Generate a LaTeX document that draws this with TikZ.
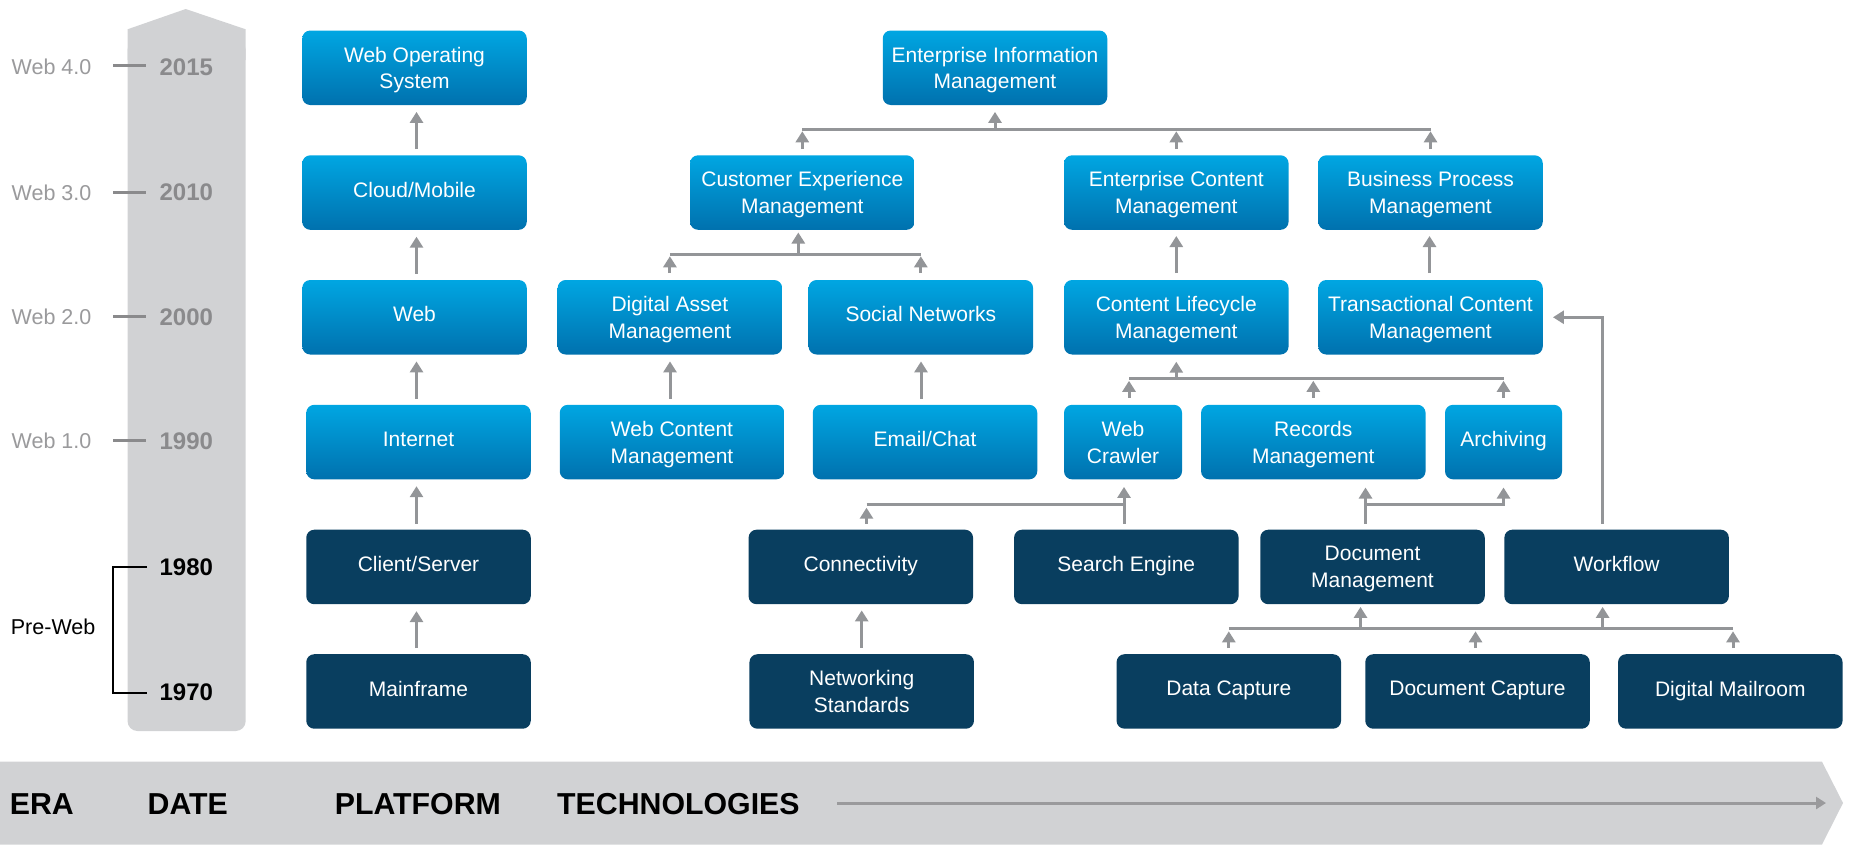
\documentclass[tikz,border=0pt]{standalone}
\usepackage{fontspec}
\setmainfont{Liberation Sans}
\usetikzlibrary{arrows.meta,calc}
\definecolor{bluetop}{HTML}{00A6E2}
\definecolor{bluebot}{HTML}{0071AE}
\definecolor{navy}{HTML}{093E5F}
\definecolor{bandgray}{HTML}{D1D2D4}
\definecolor{arrgray}{HTML}{939598}
\definecolor{yeargray}{HTML}{8A8A8C}
\definecolor{eragray}{HTML}{9A9A9C}
\begin{document}
\begin{tikzpicture}[x=1pt,y=-1pt,
  box/.style={rounded corners=8pt, minimum width=224.5pt, minimum height=74.5pt, inner sep=0pt, text=white, align=center, text depth=0pt, font=\fontsize{21}{26.7}\selectfont},
  one/.style={text depth=6pt},
  lbox/.style={box, top color=bluetop, bottom color=bluebot},
  dbox/.style={box, fill=navy},
  arr/.style={draw=arrgray, line width=3pt, -{Triangle[width=13pt,length=11pt]}},
  bus/.style={draw=arrgray, line width=3pt},
  eralbl/.style={anchor=west, inner sep=0pt, text=eragray, font=\fontsize{21.5}{24}\selectfont},
  yearg/.style={inner sep=0pt, text=yeargray, font=\fontsize{24}{26}\selectfont\bfseries},
  yearb/.style={inner sep=0pt, text=black, font=\fontsize{24}{26}\selectfont\bfseries},
  tick/.style={draw=yeargray, line width=3pt},
  bandlbl/.style={anchor=base west, inner sep=0pt, text=black, font=\fontsize{30.3}{32}\selectfont\bfseries},
  bandarr/.style={draw=eragray, line width=3pt, -{Triangle[width=12pt,length=10pt]}}
]
\useasboundingbox (0,0) rectangle (1851,849);

% timeline bar
\fill[bandgray, rounded corners=10pt] (127.5,40) rectangle (245.7,731);
\fill[bandgray] (127.5,29.3) -- (185.7,9) -- (245.7,29.3) -- (245.7,60) -- (127.5,60) -- cycle;

% bottom band
\fill[bandgray] (0,761.7) -- (1822,761.7) -- (1843,803) -- (1822,844.5) -- (0,844.5) -- cycle;
\node[bandlbl] (era) at (9.6,814.9) {ERA};
\node[bandlbl] (date) at (147.5,814.9) {DATE};
\node[bandlbl] (platform) at (334.6,814.9) {PLATFORM};
\node[bandlbl] (tech) at (557,814.9) {TECHNOLOGIES};
\coordinate (axs) at (837.3,803);
\coordinate (axe) at (1826,803);
\draw[bandarr] (axs) -- (axe);

% eras and dates
\node[eralbl] (w4) at (11.5,67) {Web 4.0};
\node[eralbl] (w3) at (11.5,192.5) {Web 3.0};
\node[eralbl] (w2) at (11.5,317) {Web 2.0};
\node[eralbl] (w1) at (11.5,441) {Web 1.0};
\node[yearg] (y2015) at (186.3,67) {2015};
\node[yearg] (y2010) at (186.3,192.5) {2010};
\node[yearg] (y2000) at (186.3,317) {2000};
\node[yearg] (y1990) at (186.3,441.5) {1990};
\node[yearb] (y1980) at (186.3,567.3) {1980};
\node[yearb] (y1970) at (186.3,692.5) {1970};
\draw[tick] (113,65) -- (146,65);
\draw[tick] (113,192) -- (146,192);
\draw[tick] (113,316) -- (146,316);
\draw[tick] (113,440) -- (146,440);
\node[anchor=west, inner sep=0pt, font=\fontsize{21.5}{24}\selectfont] (preweb) at (10.7,627.3) {Pre-Web};
\draw[black, line width=2pt] (147,567.3) -- (113.2,567.3) -- (113.2,692.7) -- (147,692.7);

% platform column
\node[lbox] (webos) at (414.5,67.75) {Web Operating\\System};
\node[lbox, one] (cloud) at (414.5,192.55) {Cloud/Mobile};
\node[lbox, one] (web) at (414.5,317.25) {Web};
\node[lbox, one] (internet) at (418.5,442.05) {Internet};
\node[dbox, one] (client) at (418.5,566.95) {Client/Server};
\node[dbox, one] (mainframe) at (418.5,691.45) {Mainframe};

\draw[arr] ($(cloud.north)+(2,-6)$) -- ($(cloud.north |- webos.south)+(2,6.7)$);
\draw[arr] ($(web.north)+(2,-6)$) -- ($(web.north |- cloud.south)+(2,6.7)$);
\draw[arr] ($(internet.north)+(-2,-6)$) -- ($(internet.north |- web.south)+(-2,6.7)$);
\draw[arr] ($(client.north)+(-2,-6)$) -- ($(client.north |- internet.south)+(-2,6.7)$);
\draw[arr] ($(mainframe.north)+(-2,-6)$) -- ($(mainframe.north |- client.south)+(-2,6.7)$);

% technology boxes
\node[lbox] (eim) at (995,67.75) {Enterprise Information\\Management};
\node[lbox] (cem) at (802.3,192.55) {Customer Experience\\Management};
\node[lbox] (ecm) at (1176.3,192.55) {Enterprise Content\\Management};
\node[lbox] (bpm) at (1430.5,192.55) {Business Process\\Management};
\node[lbox] (dam) at (669.9,317.25) {Digital Asset\\Management};
\node[lbox, one] (sn) at (920.8,317.25) {Social Networks};
\node[lbox] (clm) at (1176.3,317.25) {Content Lifecycle\\Management};
\node[lbox] (tcm) at (1430.5,317.25) {Transactional Content\\Management};
\node[lbox] (wcm) at (672,442.05) {Web Content\\Management};
\node[lbox, one] (email) at (925,442.05) {Email/Chat};
\node[lbox, minimum width=118pt] (wc) at (1123,442.05) {Web\\Crawler};
\node[lbox] (rec) at (1313.3,442.05) {Records\\Management};
\node[lbox, one, minimum width=117pt] (arch) at (1503.5,442.05) {Archiving};
\node[dbox, one] (conn) at (860.8,566.95) {Connectivity};
\node[dbox, one] (se) at (1126.3,566.95) {Search Engine};
\node[dbox] (dm) at (1372.5,566.95) {Document\\Management};
\node[dbox, one] (wf) at (1616.6,566.95) {Workflow};
\node[dbox] (ns) at (861.7,691.45) {Networking\\Standards};
\node[dbox, one] (dc) at (1228.8,691.45) {Data Capture};
\node[dbox, one] (doc) at (1477.5,691.45) {Document Capture};
\node[dbox, one] (mr) at (1730.3,691.45) {Digital Mailroom};

% EIM tree
\coordinate (eimbus) at (0,129.3);
\draw[bus] (cem.north |- eimbus) -- (bpm.north |- eimbus);
\draw[arr] ($(cem.north)+(0,-6)$) -- ($(cem.north |- eimbus)+(0,2)$);
\draw[arr] ($(ecm.north)+(0,-6)$) -- ($(ecm.north |- eimbus)+(0,2)$);
\draw[arr] ($(bpm.north)+(0,-6)$) -- ($(bpm.north |- eimbus)+(0,2)$);
\draw[arr] (eim.south |- eimbus) -- ($(eim.south)+(0,6.7)$);

% CEM tree
\coordinate (cembus) at (0,254.3);
\draw[bus] (dam.north |- cembus) -- (sn.north |- cembus);
\draw[arr] ($(dam.north)+(0,-6.7)$) -- ($(dam.north |- cembus)+(0,2)$);
\draw[arr] ($(sn.north)+(0,-6.7)$) -- ($(sn.north |- cembus)+(0,2)$);
\draw[arr] ($(cem.south |- cembus)+(-4,0)$) -- ($(cem.south)+(-4,2.5)$);

\draw[arr] ($(wcm.north)+(-2,-6)$) -- ($(wcm.north |- dam.south)+(-2,6.7)$);
\draw[arr] ($(email.north)+(-4,-6)$) -- ($(email.north |- sn.south)+(-4,6.7)$);
\draw[arr] ($(clm.north)+(0,-6.7)$) -- ($(clm.north |- ecm.south)+(0,6)$);
\draw[arr] ($(tcm.north)+(-1,-6.7)$) -- ($(tcm.north |- bpm.south)+(-1,6)$);

% CLM tree
\coordinate (clmbus) at (0,378.3);
\draw[bus] ($(wc.north |- clmbus)+(6,0)$) -- (arch.north |- clmbus);
\draw[arr] ($(wc.north)+(6,-7)$) -- ($(wc.north |- clmbus)+(6,2.5)$);
\draw[arr] ($(rec.north)+(0,-7)$) -- ($(rec.north |- clmbus)+(0,2.5)$);
\draw[arr] ($(arch.north)+(0,-7)$) -- ($(arch.north |- clmbus)+(0,2.5)$);
\draw[arr] (clm.south |- clmbus) -- ($(clm.south)+(0,7)$);

% Web crawler tree
\coordinate (wcbus) at (0,504.7);
\draw[bus] ($(conn.north |- wcbus)+(5.7,0)$) -- ($(se.north |- wcbus)+(-2.3,0)$);
\draw[arr] ($(conn.north)+(5.7,-6)$) -- ($(conn.north |- wcbus)+(5.7,3)$);
\draw[arr] ($(se.north)+(-2.3,-6)$) -- ($(se.north |- wc.south)+(-2.3,7.4)$);
\draw[arr] ($(ns.north)+(0,-6.5)$) -- ($(ns.north |- conn.south)+(0,6)$);

% Document management to records / archiving
\draw[arr] ($(dm.north)+(-7,-6)$) -- ($(dm.north |- rec.south)+(-7,8)$);
\draw[arr] ($(dm.north |- wcbus)+(-7,0)$) -- (arch.south |- wcbus) -- ($(arch.south)+(0,8)$);

% Workflow to transactional content management
\draw[arr] ($(wf.north)+(-14.6,-6)$) |- ($(tcm.east)+(10,0)$);

% capture tree
\coordinate (capbus) at (0,628.3);
\draw[bus] (dc.north |- capbus) -- ($(mr.north |- capbus)+(2.7,0)$);
\draw[arr] ($(dc.north)+(0,-6)$) -- ($(dc.north |- capbus)+(0,3)$);
\draw[arr] ($(doc.north)+(-2,-6)$) -- ($(doc.north |- capbus)+(-2,3)$);
\draw[arr] ($(mr.north)+(2.7,-6)$) -- ($(mr.north |- capbus)+(2.7,3)$);
\draw[arr] ($(dm.south |- capbus)+(-12,0)$) -- ($(dm.south)+(-12,2.5)$);
\draw[arr] ($(wf.south |- capbus)+(-14,0)$) -- ($(wf.south)+(-14,2.5)$);
\end{tikzpicture}
\end{document}
